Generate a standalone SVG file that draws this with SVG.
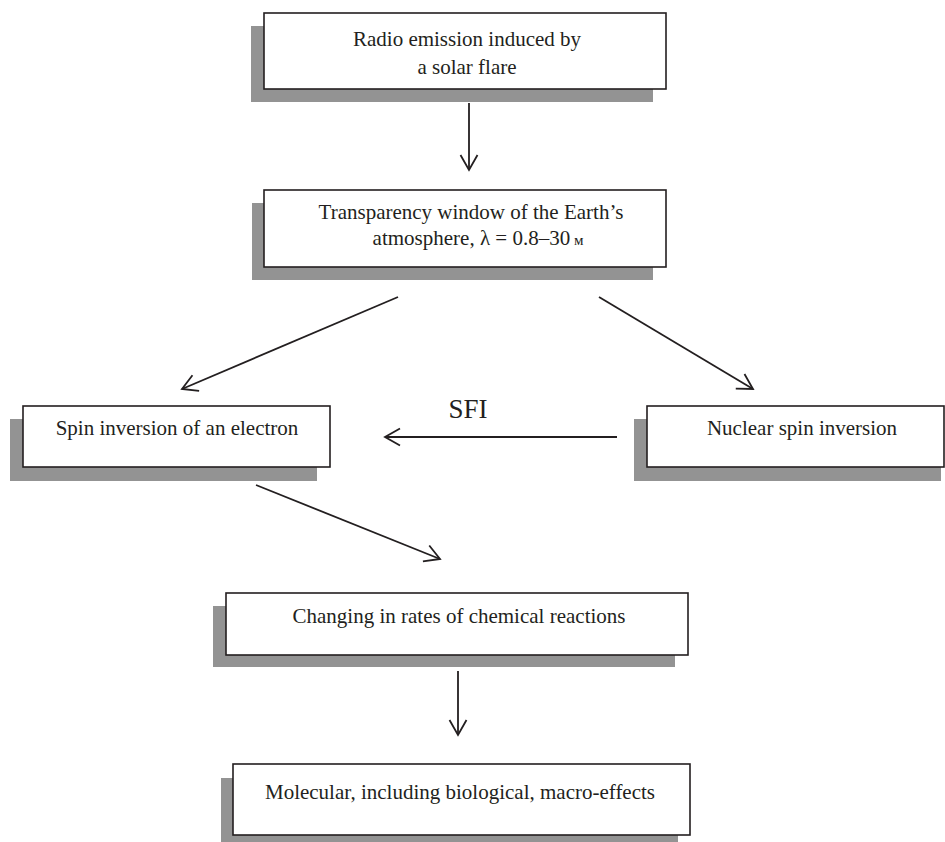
<svg xmlns="http://www.w3.org/2000/svg" width="945" height="842" viewBox="0 0 945 842">
<style>
.shadow{fill:#939393;stroke:none}
.box{fill:#ffffff;stroke:#231f20;stroke-width:1.6}
.t{font-size:21px;fill:#231f20;text-anchor:middle}
.lbl{font-size:27px;fill:#231f20;text-anchor:middle}
.c{fill:none;stroke:#231f20;stroke-width:1.8}
</style>
<defs>
<marker id="arr" markerUnits="userSpaceOnUse" viewBox="-17 -10 20 20" refX="0" refY="0" markerWidth="20" markerHeight="20" orient="auto">
<path d="M-15,-8.5 L0,0 L-15,8.5" fill="none" stroke="#231f20" stroke-width="1.8"/>
</marker>
</defs>
<rect width="945" height="842" fill="#ffffff"/>
<g font-family="'Liberation Serif', 'Times New Roman', 'DejaVu Serif', serif">
<g id="n1">
<rect class="shadow" x="251" y="26" width="402" height="76"/>
<rect class="box" x="264" y="13" width="402" height="76"/>
<text class="t" x="467" y="46">Radio emission induced by</text>
<text class="t" x="467" y="74">a solar flare</text>
</g>
<g id="n2">
<rect class="shadow" x="252" y="203" width="401" height="77"/>
<rect class="box" x="264" y="190" width="402" height="77"/>
<text class="t" x="471" y="219">Transparency window of the Earth’s</text>
<text class="t" x="478" y="245">atmosphere, λ = 0.8–30<tspan style="font-size:15px"> м</tspan></text>
</g>
<g id="n3">
<rect class="shadow" x="10" y="419" width="307" height="62"/>
<rect class="box" x="23" y="406" width="307" height="61"/>
<text class="t" x="177" y="435">Spin inversion of an electron</text>
</g>
<g id="n4">
<rect class="shadow" x="634" y="419" width="307" height="62"/>
<rect class="box" x="647" y="406" width="297" height="61"/>
<text class="t" x="802" y="435">Nuclear spin inversion</text>
</g>
<g id="n5">
<rect class="shadow" x="213" y="606" width="462" height="61"/>
<rect class="box" x="226" y="593" width="462" height="62"/>
<text class="t" x="459" y="623">Changing in rates of chemical reactions</text>
</g>
<g id="n6">
<rect class="shadow" x="221" y="778" width="457" height="70"/>
<rect class="box" x="233" y="764" width="457" height="71"/>
<text class="t" x="460" y="799">Molecular, including biological, macro-effects</text>
</g>
<g id="connectors">
<line class="c" x1="469" y1="103" x2="469" y2="170" marker-end="url(#arr)"/>
<line class="c" x1="398" y1="297" x2="182" y2="389" marker-end="url(#arr)"/>
<line class="c" x1="599" y1="297" x2="753" y2="389" marker-end="url(#arr)"/>
<line class="c" x1="617" y1="437" x2="385" y2="437" marker-end="url(#arr)"/>
<text class="lbl" x="468" y="418">SFI</text>
<line class="c" x1="256" y1="485" x2="440" y2="559" marker-end="url(#arr)"/>
<line class="c" x1="458" y1="671" x2="458" y2="735" marker-end="url(#arr)"/>
</g>
</g>
</svg>
